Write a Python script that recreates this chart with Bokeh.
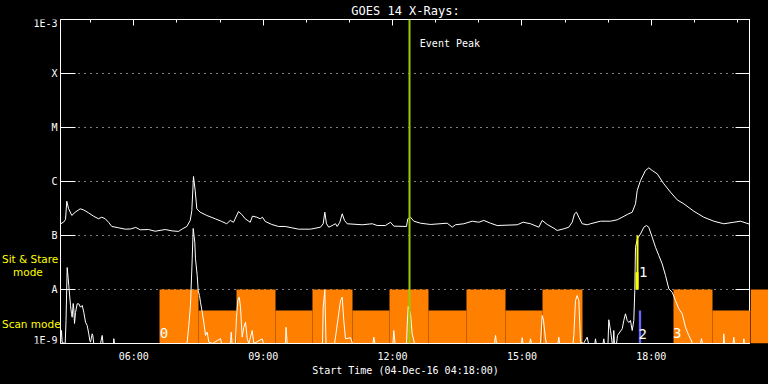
from bokeh.plotting import figure
from bokeh.models import Range1d, LinearAxis, LogAxis, FixedTicker, Span, Label
from bokeh.layouts import row
from bokeh.core.properties import value
from bokeh.embed import file_html
from bokeh.resources import INLINE

FONT = "DejaVu Sans Mono"
ORANGE = "#ff8000"
GREEN = "#99cc00"
YELLOW = "#ffff00"
BLUE = "#6666ff"

title_text = "GOES 14 X-Rays:"
xlabel_text = "Start Time (04-Dec-16 04:18:00)"

# time axis in decimal hours of 04-Dec-16
t_start, t_end, t_beyond = 4.3, 20.3, 20.717
flux_min, flux_max = 1e-9, 1e-3

class_levels = [1e-8, 1e-7, 1e-6, 1e-5, 1e-4]
class_names = ["A", "B", "C", "M", "X"]
end_names = ["1E-3", "1E-9"]
end_f = [8.43e-4, 1.14e-9]
hour_major = [6, 9, 12, 15, 18]
hour_major_labels = ["06:00", "09:00", "12:00", "15:00", "18:00"]
hour_minor = list(range(5, 21))

# mode legend texts at the left (position in px of the left margin, flux)
mode_text = ["Sit & Stare", "mode", "Scan mode"]
mode_px = [1.5, 12.5, 1.5]
mode_f = [3.67e-8, 2.15e-8, 2.25e-9]

# GOES long channel (1-8 A), W/m^2
long_t = [4.300, 4.370, 4.416, 4.446, 4.486, 4.562, 4.641, 4.757, 4.833, 4.949,
          5.065, 5.181, 5.258, 5.337, 5.413, 5.490, 5.645, 5.800, 5.923, 6.046,
          6.148, 6.341, 6.496, 6.728, 6.881, 7.036, 7.129, 7.229, 7.308, 7.345,
          7.384, 7.423, 7.461, 7.539, 7.692, 7.887, 8.040, 8.156, 8.235, 8.312,
          8.428, 8.504, 8.583, 8.699, 8.752, 8.852, 8.931, 8.984, 9.047, 9.200,
          9.355, 9.510, 9.663, 9.819, 10.097, 10.329, 10.391, 10.429, 10.468, 10.521,
          10.600, 10.677, 10.716, 10.777, 10.832, 10.886, 10.948, 11.296, 11.528, 11.644,
          11.836, 11.952, 12.029, 12.323, 12.353, 12.416, 12.492, 12.648, 12.880, 13.267,
          13.383, 13.459, 13.652, 13.847, 14.000, 14.116, 14.271, 14.426, 14.890, 15.029,
          15.199, 15.391, 15.470, 15.586, 15.739, 15.818, 15.971, 16.087, 16.165, 16.219,
          16.265, 16.319, 16.397, 16.513, 16.590, 16.822, 17.054, 17.209, 17.325, 17.441,
          17.557, 17.633, 17.673, 17.749, 17.865, 17.942, 18.020, 18.136, 18.290, 18.445,
          18.600, 18.753, 18.985, 19.217, 19.449, 19.681, 19.913, 20.068, 20.300]
long_f = [1.65e-7, 1.76e-7, 1.98e-7, 4.32e-7, 3.16e-7, 2.35e-7, 2.70e-7, 3.12e-7, 2.99e-7, 2.63e-7,
          2.28e-7, 2.04e-7, 2.18e-7, 2.04e-7, 1.76e-7, 1.47e-7, 1.39e-7, 1.31e-7, 1.32e-7, 1.41e-7,
          1.275e-7, 1.29e-7, 1.20e-7, 1.29e-7, 1.22e-7, 1.19e-7, 1.33e-7, 1.47e-7, 1.90e-7, 2.90e-7,
          1.24e-6, 6.81e-7, 3.12e-7, 2.70e-7, 2.35e-7, 2.04e-7, 1.82e-7, 1.65e-7, 1.90e-7, 1.76e-7,
          2.78e-7, 2.45e-7, 2.04e-7, 1.76e-7, 2.28e-7, 2.18e-7, 2.04e-7, 2.18e-7, 1.82e-7, 1.60e-7,
          1.47e-7, 1.47e-7, 1.39e-7, 1.31e-7, 1.31e-7, 1.425e-7, 1.65e-7, 2.70e-7, 1.65e-7, 1.425e-7,
          1.53e-7, 1.65e-7, 1.47e-7, 1.76e-7, 2.52e-7, 1.90e-7, 1.65e-7, 1.58e-7, 1.65e-7, 1.53e-7,
          1.53e-7, 1.76e-7, 1.49e-7, 1.47e-7, 2.04e-7, 2.18e-7, 1.84e-7, 1.69e-7, 1.60e-7, 1.69e-7,
          1.425e-7, 1.58e-7, 1.65e-7, 1.84e-7, 1.76e-7, 1.90e-7, 1.69e-7, 1.53e-7, 1.58e-7, 1.76e-7,
          1.65e-7, 1.425e-7, 1.90e-7, 1.60e-7, 1.365e-7, 1.24e-7, 1.33e-7, 1.425e-7, 1.76e-7, 2.52e-7,
          2.70e-7, 2.18e-7, 1.65e-7, 1.58e-7, 1.65e-7, 1.84e-7, 1.84e-7, 1.95e-7, 2.18e-7, 2.45e-7,
          2.70e-7, 3.86e-7, 6.81e-7, 1.04e-6, 1.60e-6, 1.79e-6, 1.60e-6, 1.39e-6, 9.06e-7, 6.34e-7,
          4.58e-7, 3.86e-7, 2.82e-7, 2.18e-7, 1.84e-7, 1.65e-7, 1.76e-7, 1.84e-7, 1.60e-7]

# GOES short channel (0.5-4 A), W/m^2
short_t = [4.300, 4.312, 4.323, 4.339, 4.409, 4.428, 4.455, 4.479, 4.492, 4.532,
           4.555, 4.571, 4.594, 4.608, 4.625, 4.648, 4.687, 4.724, 4.764, 4.803,
           4.840, 4.880, 4.919, 4.956, 4.979, 4.996, 5.035, 5.049, 5.072, 5.228,
           5.267, 5.286, 5.529, 5.536, 5.552, 7.222, 7.238, 7.275, 7.314, 7.354,
           7.377, 7.414, 7.430, 7.470, 7.493, 7.523, 7.546, 7.586, 7.623, 7.662,
           7.702, 7.739, 7.825, 8.010, 8.033, 8.242, 8.258, 8.277, 8.358, 8.381,
           8.411, 8.444, 8.474, 8.513, 8.551, 8.590, 8.629, 8.667, 8.745, 8.782,
           8.977, 9.007, 9.517, 9.529, 9.557, 10.375, 10.392, 10.429, 10.457, 10.654,
           10.677, 10.793, 10.832, 10.869, 10.909, 11.025, 11.071, 11.546, 11.565, 11.593,
           12.010, 12.029, 12.057, 12.323, 12.339, 12.363, 12.416, 12.455, 12.509, 14.364,
           14.387, 14.410, 14.990, 15.006, 15.025, 15.180, 15.199, 15.220, 15.430, 15.470,
           15.500, 15.546, 15.570, 15.835, 15.855, 15.875,
           16.184, 16.203, 16.242, 16.281, 16.319, 16.358, 16.428, 16.513, 16.543, 16.690,
           16.706, 16.722, 16.880, 16.898, 16.915, 16.996,
           17.014, 17.054, 17.094, 17.115, 17.130, 17.145, 17.193, 17.216, 17.325, 17.362,
           17.401, 17.441, 17.478,
           17.517, 17.557, 17.594, 17.617, 17.633, 17.680, 17.749, 17.826, 17.888, 17.942,
           18.020, 18.097, 18.174, 18.252, 18.329, 18.406, 18.484, 18.561, 18.637, 18.716,
           18.793, 18.869, 18.909, 18.955, 19.141, 19.164, 19.187, 19.674, 19.681, 19.697,
           19.895, 19.913, 19.930, 20.138, 20.145, 20.161, 20.300]
short_f = [1.0e-9, 1.41e-9, 1.74e-9, 1.04e-9, 1.0e-9, 2.67e-9, 2.55e-8, 1.58e-8, 1.19e-8, 5.06e-9,
           3.59e-9, 3.07e-9, 5.50e-9, 4.39e-9, 2.35e-9, 3.75e-9, 5.43e-9, 5.43e-9, 4.70e-9, 5.06e-9,
           3.80e-9, 2.48e-9, 2.15e-9, 1.51e-9, 1.14e-9, 1.06e-9, 1.51e-9, 1.41e-9, 1.0e-9, 1.0e-9,
           1.41e-9, 1.0e-9, 1.0e-9, 1.23e-9, 1.0e-9, 1.0e-9, 1.06e-9, 2.15e-9, 5.06e-9, 3.70e-8,
           1.35e-7, 7.51e-8, 3.70e-8, 1.82e-8, 9.58e-9, 7.74e-9, 5.82e-9, 3.80e-9, 2.48e-9, 1.41e-9,
           1.62e-9, 1.06e-9, 1.0e-9, 1.23e-9, 1.0e-9, 1.0e-9, 1.62e-9, 1.0e-9, 1.0e-9, 3.07e-9,
           6.26e-9, 7.20e-9, 4.70e-9, 1.31e-9, 2.00e-9, 2.48e-9, 1.23e-9, 1.0e-9, 1.74e-9, 1.0e-9,
           1.22e-9, 1.0e-9, 1.0e-9, 2.00e-9, 1.0e-9, 1.0e-9, 4.70e-9, 9.87e-9, 1.0e-9, 1.0e-9,
           1.31e-9, 6.26e-9, 7.20e-9, 2.67e-9, 1.22e-9, 1.28e-9, 1.0e-9, 1.0e-9, 1.31e-9, 1.0e-9,
           1.0e-9, 1.74e-9, 1.0e-9, 1.0e-9, 2.15e-9, 4.84e-9, 3.55e-9, 1.51e-9, 1.0e-9, 1.0e-9,
           1.41e-9, 1.0e-9, 1.0e-9, 1.28e-9, 1.0e-9, 1.0e-9, 1.22e-9, 1.0e-9, 1.0e-9, 3.30e-9,
           2.67e-9, 1.22e-9, 1.0e-9, 1.0e-9, 1.31e-9, 1.0e-9,
           1.0e-9, 1.41e-9, 6.26e-9, 7.74e-9, 6.26e-9, 1.06e-9, 1.0e-9, 1.31e-9, 1.0e-9, 1.0e-9,
           1.22e-9, 1.0e-9, 1.0e-9, 1.22e-9, 1.0e-9, 1.0e-9,
           2.75e-9, 1.74e-9, 1.0e-9, 1.0e-9, 1.74e-9, 1.0e-9, 1.0e-9, 1.41e-9, 1.87e-9, 2.67e-9,
           3.55e-9, 2.67e-9, 2.45e-9,
           2.67e-9, 1.74e-9, 2.67e-9, 9.58e-9, 6.07e-8, 8.8e-8, 1.07e-7, 1.42e-7, 1.53e-7, 1.42e-7,
           9.30e-8, 6.07e-8, 4.26e-8, 2.99e-8, 1.82e-8, 1.03e-8, 8.91e-9, 6.26e-9, 4.39e-9, 3.55e-9,
           2.00e-9, 1.41e-9, 1.22e-9, 1.0e-9, 1.0e-9, 1.23e-9, 1.0e-9, 1.0e-9, 1.51e-9, 1.0e-9,
           1.0e-9, 1.31e-9, 1.0e-9, 1.0e-9, 1.22e-9, 1.0e-9, 1.0e-9]

# observing blocks (orange)
orbit_start = [6.596, 7.500, 8.381, 9.286, 10.143, 11.071, 11.929, 12.833, 13.714, 14.619, 15.477, 18.514, 19.419, 20.300]
orbit_end = [7.500, 8.381, 9.286, 10.143, 11.071, 11.929, 12.833, 13.714, 14.619, 15.477, 16.404, 19.419, 20.300, 20.717]
orbit_top = [1e-8, 4.09e-9, 1e-8, 4.09e-9, 1e-8, 4.09e-9, 1e-8, 4.09e-9, 1e-8, 4.09e-9, 1e-8, 1e-8, 4.09e-9, 1e-8]

# event markers
event_peak = 12.393
event_label_t, event_label_f = 12.632, 3.59e-4
sit_left = [17.657, 17.633]
sit_right = [17.703, 17.703]
sit_bottom = [1e-8, 1e-8]
sit_top = [1e-7, 2.09e-8]
scan_left = [17.710]
scan_right = [17.765]
scan_bottom = [1e-9]
scan_top = [4.09e-9]
marker_text = ["0", "1", "2", "3"]
marker_t = [6.60, 17.715, 17.705, 18.500]
marker_f = [1.56e-9, 2.15e-8, 1.53e-9, 1.56e-9]

common = dict(height=384, output_backend="svg", toolbar_location=None,
              min_border_top=19, min_border_bottom=41,
              background_fill_color="black", border_fill_color="black")

# ---------------- main plot ----------------
p = figure(width=690, x_range=Range1d(t_start, t_end),
           y_range=Range1d(flux_min, flux_max), y_axis_type="log",
           min_border_left=0, min_border_right=0,
           outline_line_color="white", **common)

p.title.text = title_text
p.title.align = "center"
p.title.text_color = "white"
p.title.text_font = FONT
p.title.text_font_size = "12px"
p.title.text_font_style = "normal"
p.title.standoff = 3

p.xgrid.visible = False
p.ygrid.ticker = FixedTicker(ticks=class_levels)
p.ygrid.grid_line_color = "white"
p.ygrid.grid_line_dash = "1 5"
p.ygrid.grid_line_width = 1

yax = p.yaxis[0]
yax.ticker = FixedTicker(ticks=class_levels, minor_ticks=[])
yax.major_tick_in = 15
yax.major_tick_out = 0
yax.minor_tick_in = 0
yax.minor_tick_out = 0
yax.major_label_standoff = 0
yax.major_label_text_font_size = "1px"
yax.major_label_text_alpha = 0.0
yax.axis_line_color = "white"
yax.major_tick_line_color = "white"

xax = p.xaxis[0]
xax.ticker = FixedTicker(ticks=hour_major, minor_ticks=hour_minor)
xax.major_label_overrides = dict(zip(hour_major, hour_major_labels))
xax.major_tick_in = 0
xax.major_tick_out = 0
xax.minor_tick_in = 0
xax.minor_tick_out = 0
xax.major_label_standoff = 7
xax.axis_line_color = "white"
xax.major_label_text_color = "white"
xax.major_label_text_font = FONT
xax.major_label_text_font_size = "10px"
xax.axis_label = xlabel_text
xax.axis_label_text_color = "white"
xax.axis_label_text_font = FONT
xax.axis_label_text_font_size = "10px"
xax.axis_label_text_font_style = "normal"
xax.axis_label_standoff = 0

rax = LogAxis(ticker=FixedTicker(ticks=class_levels, minor_ticks=[]),
              major_tick_in=15, major_tick_out=0, minor_tick_in=0, minor_tick_out=0,
              major_label_text_font_size="1px", major_label_text_alpha=0.0,
              major_label_standoff=0,
              axis_line_color="white", major_tick_line_color="white")
p.add_layout(rax, "right")

tax = LinearAxis(ticker=FixedTicker(ticks=hour_major, minor_ticks=hour_minor),
                 major_tick_in=6, major_tick_out=0, minor_tick_in=3, minor_tick_out=0,
                 major_label_text_font_size="1px", major_label_text_alpha=0.0,
                 major_label_standoff=0,
                 axis_line_color="white", major_tick_line_color="white",
                 minor_tick_line_color="white")
p.add_layout(tax, "above")

# orange observing blocks
p.quad(left=orbit_start, right=orbit_end, bottom=flux_min, top=orbit_top,
       fill_color=ORANGE, line_color=None)

# GOES curves
p.line(long_t, long_f, line_color="white", line_width=1)
p.line(short_t, short_f, line_color="white", line_width=1)

# mode bars
p.quad(left=sit_left, right=sit_right, bottom=sit_bottom, top=sit_top,
       fill_color=YELLOW, line_color=None)
p.quad(left=scan_left, right=scan_right, bottom=scan_bottom, top=scan_top,
       fill_color=BLUE, line_color=None)

p.add_layout(Span(location=event_peak, dimension="height", line_color=GREEN, line_width=2))

p.add_layout(Label(x=event_label_t, y=event_label_f, text="Event Peak", text_color="white",
                   text_font=FONT, text_font_size="10px", text_baseline="middle"))
for txt, tt, ff in zip(marker_text, marker_t, marker_f):
    p.add_layout(Label(x=tt, y=ff, text=txt, text_color="white", text_font=FONT,
                       text_font_size="14px", text_baseline="middle"))

# ---------------- left margin (axis names and mode texts) ----------------
p0 = figure(width=60, x_range=Range1d(0, 60), y_range=p.y_range, y_axis_type="log",
            x_axis_location=None, y_axis_location=None,
            min_border_left=0, min_border_right=0, outline_line_color=None, **common)
p0.grid.visible = False
p0.text(x=[57] * len(class_levels), y=class_levels, text=class_names,
        text_color="white", text_font=value(FONT), text_font_size="10px",
        text_align="right", text_baseline="middle")
p0.text(x=[57] * len(end_names), y=end_f, text=end_names,
        text_color="white", text_font=value(FONT), text_font_size="10px",
        text_align="right", text_baseline="middle")
p0.text(x=mode_px, y=mode_f, text=mode_text, text_color=YELLOW,
        text_font=value("DejaVu Sans"), text_font_size="10.5px",
        text_align="left", text_baseline="middle")

# ---------------- strip beyond the right border ----------------
p2 = figure(width=18, x_range=Range1d(t_end, t_beyond), y_range=p.y_range,
            y_axis_type="log", x_axis_location=None, y_axis_location=None,
            min_border_left=0, min_border_right=0, outline_line_color=None, **common)
p2.grid.visible = False
p2.quad(left=orbit_start, right=orbit_end, bottom=flux_min, top=orbit_top,
        fill_color=ORANGE, line_color=None)

layout = row(p0, p, p2, spacing=0, styles={"background-color": "black"})

open("out.html", "w").write(file_html(layout, INLINE, title="GOES 14 X-Rays"))
